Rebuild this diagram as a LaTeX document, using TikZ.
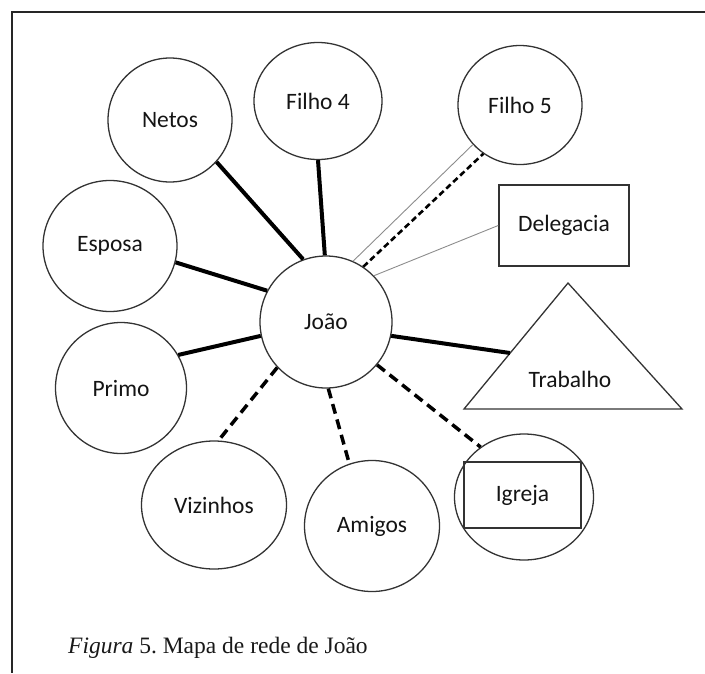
\documentclass[tikz,border=0pt]{standalone}
\usepackage{fontspec}
\setmainfont{Liberation Serif}
\newfontfamily\lblfont{Carlito}
\usetikzlibrary{shapes.geometric}
\frenchspacing
\begin{document}
\begin{tikzpicture}[x=1pt,y=-1pt,
  lbl/.style={font=\lblfont\fontsize{23.5pt}{28pt}\selectfont, text=black!92},
  member/.style={lbl, ellipse, draw=black!80, line width=1.3pt, inner sep=0pt},
  boxnode/.style={lbl, rectangle, draw=black!80, line width=1.6pt, inner sep=0pt},
  strong/.style={line width=4pt, black},
  weak/.style={line width=3.5pt, black, dash pattern=on 10pt off 6pt},
  thinweak/.style={line width=2.6pt, black, dash pattern=on 6pt off 3.5pt},
  faint/.style={line width=0.9pt, black!45}]
  \useasboundingbox (0,0) rectangle (705,673);
  % frame
  \draw[line width=1.5pt, black!85] (705,12) -- (12,12) -- (12,673);

  % network members
  \node[member, minimum width=132pt, minimum height=132pt] (joao) at (326,322) {João};
  \node[member, minimum width=124pt, minimum height=124pt] (netos) at (170,120) {Netos};
  \node[member, minimum width=128pt, minimum height=117pt] (filho4) at (318,101) {Filho 4};
  \node[member, minimum width=124pt, minimum height=119pt] (filho5) at (520,105) {Filho 5};
  \node[member, minimum width=134pt, minimum height=131pt] (esposa) at (110,246) {Esposa};
  \node[member, minimum width=131pt, minimum height=131pt] (primo) at (121,388) {Primo};
  \node[member, minimum width=145pt, minimum height=128pt] (vizinhos) at (214,505) {Vizinhos};
  \node[member, minimum width=135pt, minimum height=131pt] (amigos) at (372,526) {Amigos};
  \node[member, minimum width=139pt, minimum height=126pt] (igrejaring) at (524,497) {};
  \node[boxnode, minimum width=117pt, minimum height=66pt] (igreja) at (522.5,495) {Igreja};
  \node[boxnode, minimum width=130pt, minimum height=81pt] (delegacia) at (564,225.5) {Delegacia};

  % workplace triangle
  \draw[line width=1.3pt, draw=black!80] (568,283) coordinate (apex)
     -- (682,409) coordinate (baseright) -- (464,409) coordinate (baseleft) -- cycle;
  \coordinate (trabside) at (510,353);
  \node[lbl] (trabalho) at (570,379) {Trabalho};

  % strong ties
  \draw[strong] (netos.-42) -- (joao.110);
  \draw[strong] (filho4.270) -- (joao.91);
  \draw[strong] (esposa.-14) -- (joao.152);
  \draw[strong] (primo.30) -- (joao.192);
  \draw[strong] (joao.-12.6) -- (trabside);

  % weak ties
  \draw[weak] (joao.223) -- (vizinhos.86);
  \draw[weak] (joao.272) -- (amigos.110);
  \draw[weak] (joao.-40) -- (igrejaring.131);
  \draw[thinweak] (joao.56) -- (filho5.233);

  % faint ties
  \draw[faint] (joao.66.5) -- (filho5.220);
  \draw[faint] (joao.44.4) -- (delegacia.west);

  % caption
  \node[anchor=base west, inner sep=0pt, font=\fontsize{23.5pt}{28pt}\selectfont, text=black!90]
    (caption) at (68,653) {\textit{Figura} 5. Mapa de rede de João};
\end{tikzpicture}
\end{document}
